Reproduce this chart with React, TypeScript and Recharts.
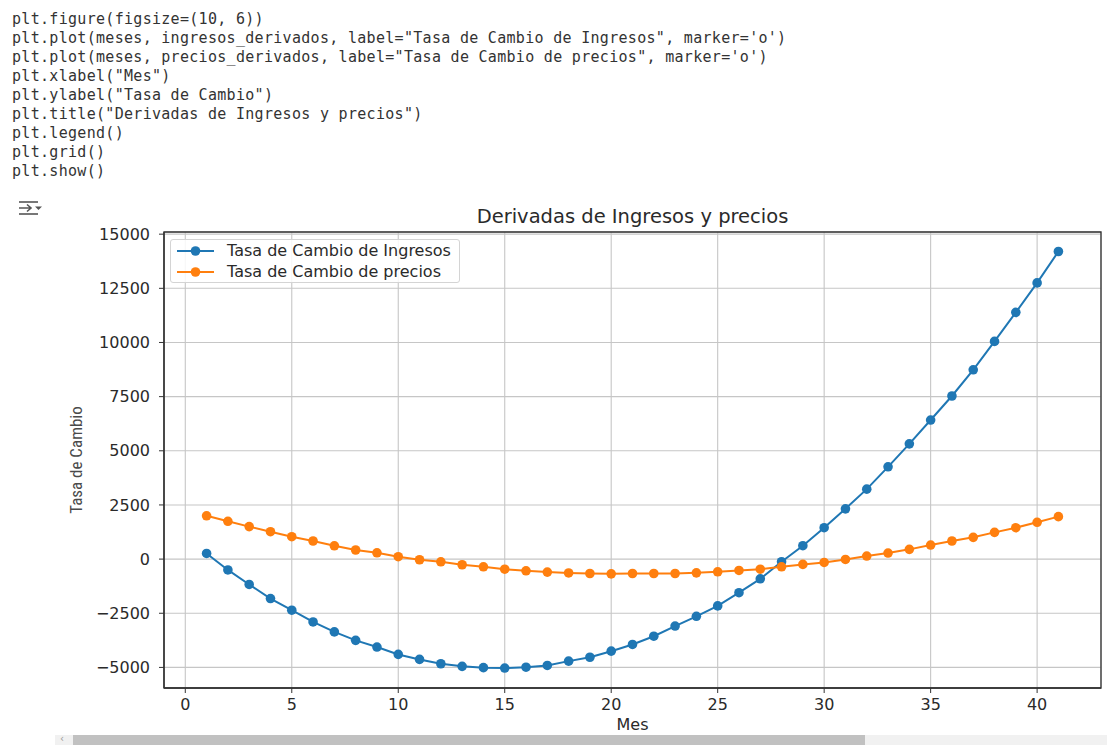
import React from 'react'
import { LineChart, Line, XAxis, YAxis, CartesianGrid, Legend, Label, ReferenceArea } from 'recharts'

const MESES = [
  1, 2, 3, 4, 5, 6, 7, 8, 9, 10, 11, 12, 13, 14, 15, 16, 17, 18, 19, 20, 21,
  22, 23, 24, 25, 26, 27, 28, 29, 30, 31, 32, 33, 34, 35, 36, 37, 38, 39, 40, 41,
]

const INGRESOS_DERIVADOS = [
  260, -500, -1170, -1820, -2360, -2900, -3360, -3750, -4060, -4400, -4630,
  -4830, -4950, -5010, -5030, -4990, -4910, -4710, -4530, -4250, -3940,
  -3560, -3090, -2640, -2160, -1550, -910, -120, 620, 1450, 2320,
  3230, 4260, 5320, 6420, 7530, 8740, 10050, 11390, 12750, 14200,
]

const PRECIOS_DERIVADOS = [
  2000, 1745, 1500, 1265, 1035, 835, 615, 420, 290, 110, -30,
  -125, -260, -355, -465, -540, -600, -640, -665, -680, -665,
  -665, -665, -635, -585, -525, -465, -355, -245, -155, -15,
  140, 280, 450, 650, 835, 1005, 1235, 1450, 1700, 1960,
]

const X_TICKS = [0, 5, 10, 15, 20, 25, 30, 35, 40]
const Y_TICKS = [-5000, -2500, 0, 2500, 5000, 7500, 10000, 12500, 15000]

const SERIES = [
  { key: 'ingresos', label: 'Tasa de Cambio de Ingresos', color: '#1f77b4' },
  { key: 'precios', label: 'Tasa de Cambio de precios', color: '#ff7f0e' },
]

const CODE_LINES = [
  'plt.figure(figsize=(10, 6))',
  'plt.plot(meses, ingresos_derivados, label="Tasa de Cambio de Ingresos", marker=\'o\')',
  'plt.plot(meses, precios_derivados, label="Tasa de Cambio de precios", marker=\'o\')',
  'plt.xlabel("Mes")',
  'plt.ylabel("Tasa de Cambio")',
  'plt.title("Derivadas de Ingresos y precios")',
  'plt.legend()',
  'plt.grid()',
  'plt.show()',
]

const FONT = '"DejaVu Sans", sans-serif'
const TEXT = '#2a2a2a'
const SPINE = '#333'
const X_DOMAIN = [-1, 43]
const Y_DOMAIN = [-5950, 15100]

const data = MESES.map((mes, i) => ({
  mes,
  ingresos: INGRESOS_DERIVADOS[i],
  precios: PRECIOS_DERIVADOS[i],
}))

const fmtY = (v: number) => (v < 0 ? `\u2212${Math.abs(v)}` : `${v}`)

function LegendBox() {
  return (
    <div
      style={{
        border: '1px solid #d4d4d4',
        borderRadius: 3,
        background: 'rgba(255,255,255,0.85)',
        padding: '0 8px 0 6px',
        fontFamily: FONT,
        fontSize: 16,
        color: TEXT,
        whiteSpace: 'nowrap',
      }}
    >
      {SERIES.map((s) => (
        <div key={s.key} style={{ display: 'flex', alignItems: 'center', height: 21 }}>
          <svg width={37} height={12}>
            <line x1={0} y1={6} x2={37} y2={6} stroke={s.color} strokeWidth={2} />
            <circle cx={18.5} cy={6} r={4.8} fill={s.color} />
          </svg>
          <span style={{ marginLeft: 13 }}>{s.label}</span>
        </div>
      ))}
    </div>
  )
}

function OutputIcon() {
  return (
    <svg width={28} height={18} style={{ position: 'absolute', left: 16, top: 199 }}>
      <path d="M3 3 H22" stroke="#555" strokeWidth={1.6} fill="none" />
      <path d="M3 15 H22" stroke="#555" strokeWidth={1.6} fill="none" />
      <path d="M3 9 H15 M11 5.5 L15 9 L11 12.5" stroke="#555" strokeWidth={1.6} fill="none" />
      <path d="M19 7.5 L26 7.5 L22.5 11 Z" fill="#555" />
    </svg>
  )
}

export default function App() {
  return (
    <div
      style={{
        position: 'absolute',
        left: 0,
        top: 0,
        width: 1107,
        height: 745,
        background: '#fff',
        overflow: 'hidden',
      }}
    >
      <div
        style={{
          position: 'absolute',
          left: 12,
          top: 10,
          fontFamily: '"DejaVu Sans Mono", monospace',
          fontSize: 15,
          letterSpacing: 0.3,
          lineHeight: '19px',
          color: '#333',
          whiteSpace: 'pre',
        }}
      >
        {CODE_LINES.map((l) => (
          <div key={l}>{l}</div>
        ))}
      </div>

      <OutputIcon />

      <div
        style={{
          position: 'absolute',
          left: 164,
          width: 937,
          top: 205,
          textAlign: 'center',
          fontFamily: FONT,
          fontSize: 19.5,
          lineHeight: '24px',
          color: TEXT,
        }}
      >
        Derivadas de Ingresos y precios
      </div>

      <div style={{ position: 'absolute', left: 0, top: 0 }}>
        <LineChart
          width={1107}
          height={745}
          data={data}
          margin={{ top: 232, right: 6, bottom: 0, left: 64 }}
        >
          <CartesianGrid stroke="#c6c6c6" strokeWidth={1.1} />
          <XAxis
            dataKey="mes"
            type="number"
            domain={X_DOMAIN}
            ticks={X_TICKS}
            interval={0}
            allowDataOverflow
            height={57}
            tickSize={5}
            tickMargin={6}
            tick={{ fill: TEXT, fontSize: 16, fontFamily: FONT }}
            axisLine={{ stroke: SPINE, strokeWidth: 1.3 }}
            tickLine={{ stroke: SPINE }}
          >
            <Label
              value="Mes"
              position="insideBottom"
              offset={15}
              style={{ fill: TEXT, fontSize: 16, fontFamily: FONT }}
            />
          </XAxis>
          <YAxis
            type="number"
            domain={Y_DOMAIN}
            ticks={Y_TICKS}
            interval={0}
            allowDataOverflow
            width={100}
            tickSize={5}
            tickMargin={9}
            tickFormatter={fmtY}
            tick={{ fill: TEXT, fontSize: 16, fontFamily: FONT }}
            axisLine={{ stroke: SPINE, strokeWidth: 1.3 }}
            tickLine={{ stroke: SPINE }}
          >
            <Label
              value="Tasa de Cambio"
              angle={-90}
              position="insideLeft"
              offset={12}
              style={{
                textAnchor: 'middle',
                fill: '#4a4a4a',
                fontSize: 17,
                fontFamily: '"Liberation Sans Narrow", "Roboto Condensed", Roboto, sans-serif',
              }}
            />
          </YAxis>
          {/* plot frame (matplotlib spines) */}
          <ReferenceArea
            x1={X_DOMAIN[0]}
            x2={X_DOMAIN[1]}
            y1={Y_DOMAIN[0]}
            y2={Y_DOMAIN[1]}
            fill="none"
            fillOpacity={0}
            stroke={SPINE}
            strokeWidth={1.3}
            ifOverflow="visible"
          />
          <Legend
            layout="horizontal"
            verticalAlign="middle"
            align="center"
            content={() => <LegendBox />}
            wrapperStyle={{ left: 170, top: 239, width: 'auto', height: 'auto' }}
          />
          {SERIES.map((s) => (
            <Line
              key={s.key}
              type="linear"
              dataKey={s.key}
              name={s.label}
              stroke={s.color}
              strokeWidth={2}
              dot={{ r: 4.8, fill: s.color, stroke: s.color, strokeWidth: 0 }}
              activeDot={false}
              isAnimationActive={false}
            />
          ))}
        </LineChart>
      </div>

      {/* scrollbar strip under the output cell */}
      <div style={{ position: 'absolute', left: 55, top: 735, width: 1052, height: 10, background: '#f1f1f1' }} />
      <div style={{ position: 'absolute', left: 73, top: 735, width: 792, height: 10, background: '#c1c1c1' }} />
      <div
        style={{
          position: 'absolute',
          left: 60,
          top: 733,
          fontSize: 10,
          fontFamily: FONT,
          color: '#999',
        }}
      >
        ‹
      </div>
    </div>
  )
}
